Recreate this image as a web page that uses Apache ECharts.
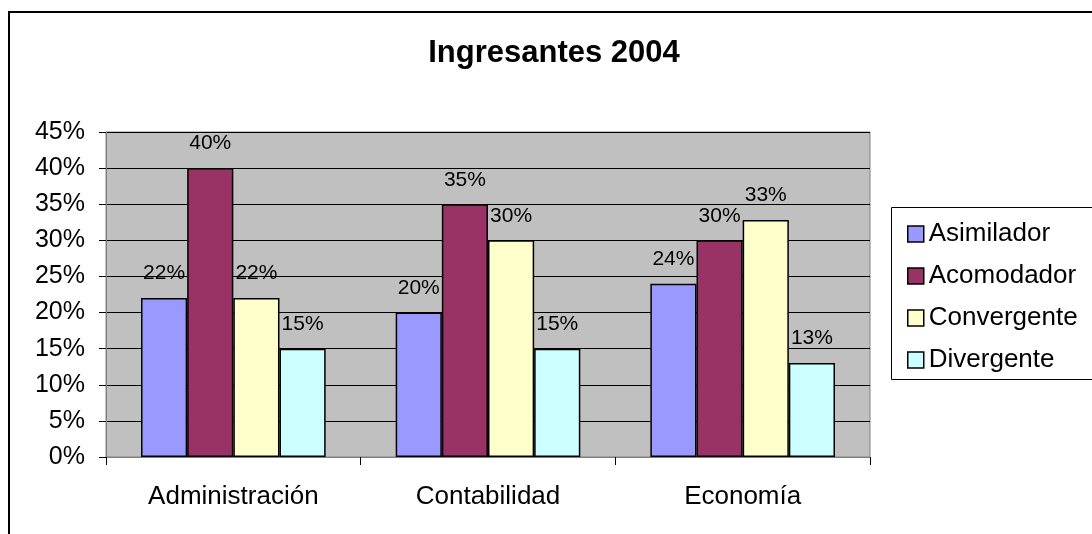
<!DOCTYPE html>
<html>
<head>
<meta charset="utf-8">
<script src="https://cdn.jsdelivr.net/npm/echarts@6/dist/echarts.min.js"></script>
<style>
html,body{margin:0;padding:0;background:#fff;}
#c{width:1092px;height:534px;}
</style>
</head>
<body>
<div id="c"></div>
<script>
const categories = ['Administración', 'Contabilidad', 'Economía'];
const seriesNames = ['Asimilador', 'Acomodador', 'Convergente', 'Divergente'];
const asimilador = [22, 20, 24];
const acomodador = [40, 35, 30];
const convergente = [22, 30, 32.8];
const divergente = [15, 15, 13];
const yTicks = [0, 5, 10, 15, 20, 25, 30, 35, 40, 45];
const colors = ['#9999FF', '#993366', '#FFFFCC', '#CCFFFF'];

const seriesData = [asimilador, acomodador, convergente, divergente];
const font = 'Liberation Sans, Arial, sans-serif';

const chart = echarts.init(document.getElementById('c'), null, {renderer: 'canvas'});
chart.setOption({
  backgroundColor: '#ffffff',
  animation: false,
  title: {
    text: 'Ingresantes 2004',
    left: 549,
    top: 33,
    textAlign: 'center',
    textStyle: {fontFamily: font, fontSize: 31, fontWeight: 'bold', color: '#000'}
  },
  graphic: [
    {type: 'rect', shape: {x: 9, y: 12, width: 1200, height: 600}, style: {fill: 'none', stroke: '#000', lineWidth: 2}, z: 100},
    {type: 'rect', shape: {x: 891.5, y: 207.5, width: 300, height: 172}, style: {fill: '#fff', stroke: '#000', lineWidth: 1}, z: 0}
  ],
  legend: {
    orient: 'vertical',
    left: 902,
    top: 216,
    itemWidth: 16,
    itemHeight: 16,
    itemGap: 16,
    icon: 'rect',
    data: seriesNames,
    itemStyle: {borderColor: '#000', borderWidth: 1.5},
    textStyle: {fontFamily: font, fontSize: 26, color: '#000', padding: [0, 0, 0, 0]},
    z: 10
  },
  grid: {
    left: 106, top: 132, right: 222, bottom: 77,
    show: true, backgroundColor: '#C0C0C0', borderColor: '#808080', borderWidth: 1,
    containLabel: false
  },
  xAxis: {
    type: 'category',
    data: categories,
    axisLine: {lineStyle: {color: '#808080', width: 1}},
    axisTick: {show: true, length: 8, lineStyle: {color: '#000'}},
    axisLabel: {fontFamily: font, fontSize: 26, color: '#000', margin: 27}
  },
  yAxis: {
    type: 'value',
    min: 0, max: 45, interval: 5,
    axisLine: {show: true, lineStyle: {color: '#808080'}},
    axisTick: {show: true, length: 7, lineStyle: {color: '#000'}},
    axisLabel: {fontFamily: font, fontSize: 25, color: '#000', margin: 21,
      formatter: v => yTicks.includes(v) ? v + '%' : ''},
    splitLine: {show: true, lineStyle: {color: '#000', width: 1}}
  },
  series: seriesNames.map((name, i) => ({
    name: name,
    type: 'bar',
    data: seriesData[i],
    barGap: '0%',
    barCategoryGap: '27.5%',
    itemStyle: {color: colors[i], borderColor: '#000', borderWidth: 1.5},
    label: {
      show: true, position: 'top', distance: 14,
      fontFamily: font, fontSize: 21, color: '#000',
      formatter: p => Math.round(p.value) + '%'
    }
  }))
});
</script>
</body>
</html>
